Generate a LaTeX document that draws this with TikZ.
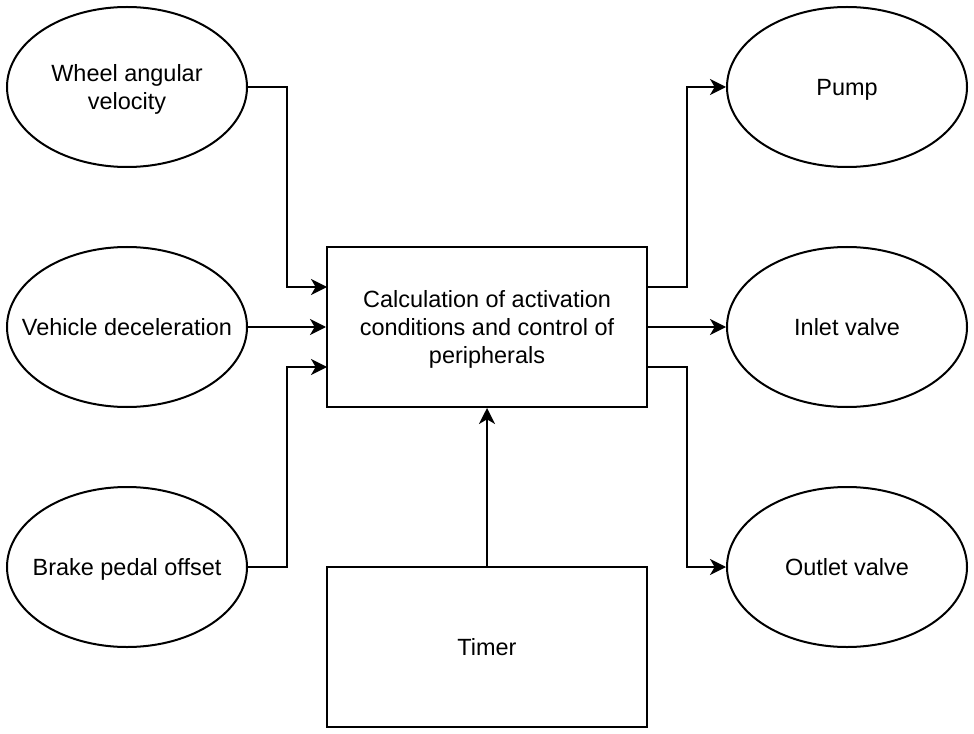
\documentclass[tikz,border=0pt]{standalone}
\usepackage{fontspec}
\setmainfont{Liberation Sans}
\usetikzlibrary{arrows.meta,shapes.geometric}
\newcommand\tstr{\rule{0pt}{16.6pt}}
\newcommand\bstr{\rule[-4.4pt]{0pt}{4.4pt}}
\begin{document}
\begin{tikzpicture}[x=0.75pt,y=-0.75pt,
  txt/.style={font=\fontsize{17.6pt}{21pt}\selectfont, align=center, inner sep=0pt},
  oval/.style={draw, line width=1.5pt, ellipse, inner sep=0pt, minimum width=180pt, minimum height=120pt},
  box/.style={draw, line width=1.5pt, rectangle, inner sep=0pt, minimum width=240pt, minimum height=120pt},
  conn/.style={line width=1.5pt, -{Stealth[length=12pt, width=12pt, inset=3.5pt]}}]
\useasboundingbox (0,0) rectangle (974,734);
\node[oval, label={[txt]center:\tstr Wheel angular\\velocity\bstr}] (wheel) at (127,87) {};
\node[oval, label={[txt]center:\tstr Vehicle deceleration\bstr}] (decel) at (127,327) {};
\node[oval, label={[txt]center:\tstr Brake pedal offset\bstr}] (brake) at (127,567) {};
\node[oval, label={[txt]center:\tstr Pump\bstr}] (pump) at (847,87) {};
\node[oval, label={[txt]center:\tstr Inlet valve\bstr}] (inlet) at (847,327) {};
\node[oval, label={[txt]center:\tstr Outlet valve\bstr}] (outlet) at (847,567) {};
\node[box, label={[txt]center:\tstr Calculation of activation\\conditions and control of\\peripherals\bstr}] (calc) at (487,327) {};
\node[box, label={[txt]center:\tstr Timer\bstr}] (timer) at (487,647) {};
\coordinate (cin1) at (327,287);
\coordinate (cin3) at (327,367);
\coordinate (cout1) at (647,287);
\coordinate (cout3) at (647,367);
\draw[conn] (wheel.east) -| (287,250) |- (cin1);
\draw[conn] (decel.east) -- (calc.west);
\draw[conn] (brake.east) -| (287,400) |- (cin3);
\draw[conn] (cout1) -| (687,200) |- (pump.west);
\draw[conn] (calc.east) -- (inlet.west);
\draw[conn] (cout3) -| (687,450) |- (outlet.west);
\draw[conn] (timer.north) -- (calc.south);
\end{tikzpicture}
\end{document}
